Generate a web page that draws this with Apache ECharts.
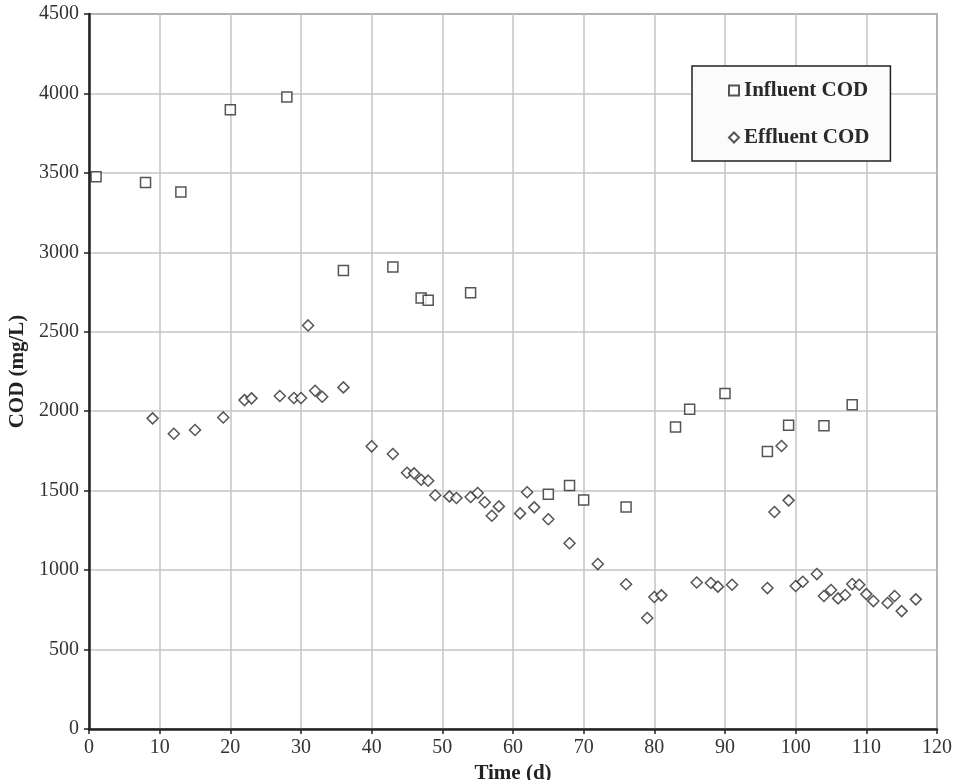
<!DOCTYPE html>
<html>
<head>
<meta charset="utf-8">
<script src="https://cdn.jsdelivr.net/npm/echarts@6/dist/echarts.min.js"></script>
<style>
html, body { margin: 0; padding: 0; background: #fff; }
#main { width: 958px; height: 780px; }
</style>
</head>
<body>
<div id="main"></div>
<script>
// 进水 COD (day, mg/L)
var influentDays = [1, 8, 13, 20, 28, 36, 43, 47, 48, 54, 65, 68, 70, 76, 83, 85, 90, 96, 99, 104, 108];
var influentCOD = [3475, 3440, 3380, 3897, 3977, 2886, 2908, 2713, 2698, 2745, 1478, 1533, 1442, 1397, 1900, 2012, 2112, 1747, 1912, 1908, 2040];

// 出水 COD
var effluentDays = [9, 12, 15, 19, 22, 23, 27, 29, 30, 31, 32, 33, 36, 40, 43, 45, 46, 47, 48, 49,
    51, 52, 54, 55, 56, 57, 58, 61, 62, 63, 65, 68, 72, 76, 79, 80, 81, 86, 88, 89,
    91, 96, 97, 98, 99, 100, 101, 103, 104, 105, 106, 107, 108, 109, 110, 111, 113, 114, 115, 117];
var effluentCOD = [1955, 1858, 1882, 1961, 2070, 2081, 2096, 2083, 2083, 2540, 2129, 2091, 2150, 1779, 1731, 1613, 1609, 1569, 1563, 1471,
    1464, 1454, 1460, 1485, 1427, 1342, 1401, 1357, 1490, 1395, 1320, 1169, 1038, 911, 699, 831, 841, 922, 919, 896,
    908, 887, 1366, 1781, 1439, 900, 927, 975, 837, 875, 822, 843, 912, 908, 849, 805, 793, 837, 742, 816];

var xTicks = [0, 120, 10];   // min, max, interval
var yTicks = [0, 4500, 500];

function pairs(xs, ys) {
    var out = [];
    for (var i = 0; i < xs.length; i++) out.push([xs[i], ys[i]]);
    return out;
}

var font = '"Liberation Serif", "DejaVu Serif", serif';
var myChart = echarts.init(document.getElementById('main'));

var option = {
    backgroundColor: '#fff',
    animation: false,
    textStyle: { fontFamily: font },
    grid: {
        left: 89, right: 21, top: 14, bottom: 51,
        outerBoundsMode: 'none',
        containLabel: false,
        show: true, borderColor: '#555', borderWidth: 1.5
    },
    legend: {
        orient: 'vertical',
        left: 692, top: 66,
        padding: [14, 21, 13, 36],
        itemGap: 26,
        itemWidth: 10, itemHeight: 10,
        backgroundColor: '#fbfbfb',
        borderColor: '#222', borderWidth: 1.5,
        textStyle: { fontFamily: font, fontSize: 21, fontWeight: 'bold', color: '#2a2a2a' },
        data: ['Influent COD', 'Effluent COD']
    },
    xAxis: {
        type: 'value',
        min: xTicks[0], max: xTicks[1], interval: xTicks[2],
        name: 'Time (d)',
        nameLocation: 'middle',
        nameGap: 30,
        nameTextStyle: { fontFamily: font, fontSize: 21, fontWeight: 'bold', color: '#222' },
        axisLine: { lineStyle: { color: '#222', width: 2.5 } },
        axisTick: { show: true, length: 5, lineStyle: { color: '#222', width: 1.5 } },
        axisLabel: { fontFamily: font, fontSize: 20, color: '#333', margin: 9 },
        splitLine: { lineStyle: { color: '#c4c4c4', width: 1.5 } }
    },
    yAxis: {
        type: 'value',
        min: yTicks[0], max: yTicks[1], interval: yTicks[2],
        name: 'COD (mg/L)',
        nameLocation: 'middle',
        nameGap: 60,
        nameTextStyle: { fontFamily: font, fontSize: 21, fontWeight: 'bold', color: '#222' },
        axisLine: { lineStyle: { color: '#222', width: 2.5 } },
        axisTick: { show: true, length: 5, lineStyle: { color: '#222', width: 1.5 } },
        axisLabel: {
            fontFamily: font, fontSize: 20, color: '#333', margin: 10,
            formatter: function (v) { return String(v); }
        },
        splitLine: { lineStyle: { color: '#c4c4c4', width: 1.5 } }
    },
    series: [
        {
            name: 'Influent COD',
            type: 'scatter',
            symbol: 'rect',
            symbolSize: 10,
            itemStyle: { color: '#fff', borderColor: '#2a2a2a', borderWidth: 1.5 },
            data: pairs(influentDays, influentCOD)
        },
        {
            name: 'Effluent COD',
            type: 'scatter',
            symbol: 'diamond',
            symbolSize: 11,
            itemStyle: { color: '#fff', borderColor: '#2a2a2a', borderWidth: 1.5 },
            data: pairs(effluentDays, effluentCOD)
        }
    ]
};

myChart.setOption(option);
</script>
</body>
</html>
